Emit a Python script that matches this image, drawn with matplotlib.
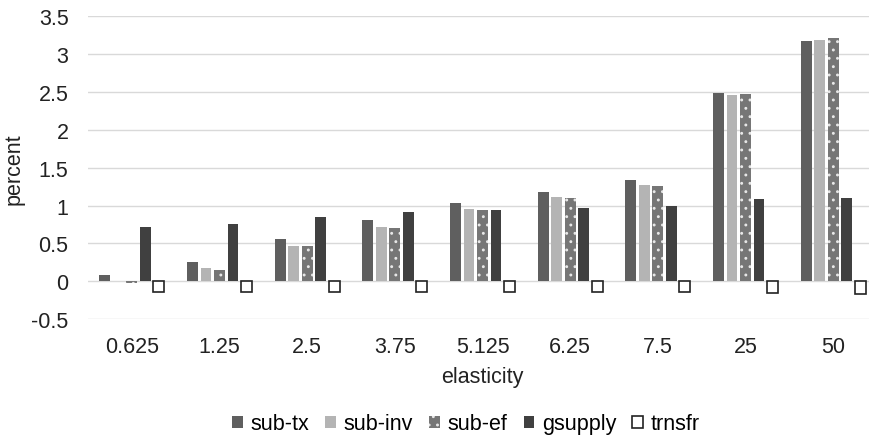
import numpy as np
import matplotlib.pyplot as plt

plt.rcParams['font.family'] = ['Liberation Sans', 'DejaVu Sans']
plt.rcParams['hatch.linewidth'] = 0.9

elasticity = ['0.625', '1.25', '2.5', '3.75', '5.125', '6.25', '7.5', '25', '50']
sub_tx = [0.08, 0.26, 0.56, 0.81, 1.03, 1.18, 1.34, 2.49, 3.18]
sub_inv = [0.00, 0.17, 0.47, 0.72, 0.95, 1.11, 1.27, 2.46, 3.19]
sub_ef = [-0.02, 0.15, 0.46, 0.70, 0.94, 1.10, 1.26, 2.47, 3.21]
gsupply = [0.72, 0.76, 0.85, 0.91, 0.94, 0.97, 0.99, 1.08, 1.10]
trnsfr = [-0.14, -0.14, -0.14, -0.14, -0.14, -0.14, -0.14, -0.15, -0.17]

fs = 15.5

fig = plt.figure(figsize=(8.7, 4.39), dpi=100)
# plot area spills a bit past the right edge, like the original
ax = fig.add_axes([88 / 870, 1 - 320 / 439, 789 / 870, 302.6 / 439])

x = np.arange(len(elasticity))
w = 0.125
step = 0.154
offs = (np.arange(5) - 2) * step

ax.bar(x + offs[0], sub_tx, w, color='#5f5f5f', label='sub-tx', zorder=3)
ax.bar(x + offs[1], sub_inv, w, color='#b4b4b4', label='sub-inv', zorder=3)
ax.bar(x + offs[2], sub_ef, w, color='#767676', edgecolor='#e8e8e8', linewidth=0,
       hatch='..', label='sub-ef', zorder=3)
ax.bar(x + offs[3], gsupply, w, color='#404040', label='gsupply', zorder=3)
ax.bar(x + offs[4], trnsfr, w, color='white', edgecolor='#222222', linewidth=1.2,
       label='trnsfr', zorder=3)

ax.set_xlim(-0.5, len(elasticity) - 0.5)
ax.set_ylim(-0.5, 3.5)
ax.set_yticks(np.arange(-0.5, 3.51, 0.5))
ax.set_yticklabels(['-0.5', '0', '0.5', '1', '1.5', '2', '2.5', '3', '3.5'])
ax.set_xticks(x)
ax.set_xticklabels(elasticity)
ax.tick_params(length=0, labelsize=fs, colors='#222222')
ax.tick_params(axis='x', pad=12)
ax.tick_params(axis='y', pad=14)
ax.grid(axis='y', color='#d9d9d9', linewidth=1, zorder=0)
for s in ax.spines.values():
    s.set_visible(False)

ax.set_xlabel('elasticity', fontsize=fs, color='#222222', labelpad=7)
ax.yaxis.set_label_coords(-63 / 789, 0.5)
ax.set_ylabel('percent', fontsize=fs, color='#222222')

fig.legend(loc='center', bbox_to_anchor=(466 / 870, 1 - 425 / 439), ncol=5, frameon=False,
           fontsize=fs, handlelength=0.5, handleheight=0.5, handletextpad=0.35,
           columnspacing=0.75)

fig.savefig('out.png', dpi=100)
